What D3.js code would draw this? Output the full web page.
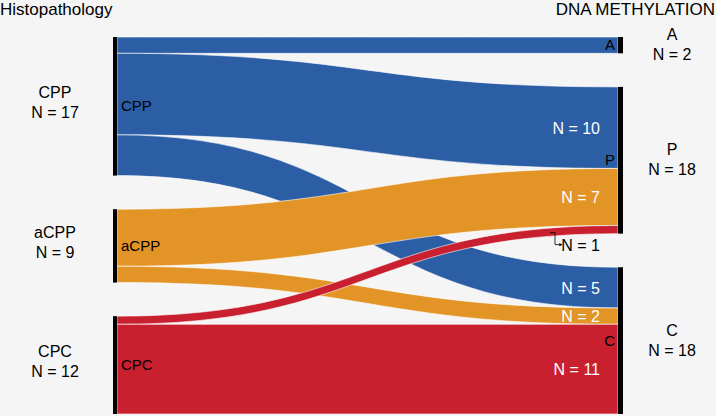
<!DOCTYPE html>
<html>
<head>
<meta charset="utf-8">
<script src="https://cdn.jsdelivr.net/npm/d3@7"></script>
<style>
  body { margin: 0; background: #f5f5f5; }
  svg { display: block; font-family: "Liberation Sans", Arial, Helvetica, sans-serif; }
</style>
</head>
<body>
<svg class="sankey"></svg>
<script>
// Node names per column
const leftNodes = ['CPP', 'aCPP', 'CPC'];
const rightNodes = ['A', 'P', 'C'];

// Flows (histopathology -> methylation class)
const sources = ['CPP', 'CPP', 'CPP', 'aCPP', 'aCPP', 'CPC', 'CPC'];
const targets = ['A', 'P', 'C', 'P', 'C', 'P', 'C'];
const counts = [2, 10, 5, 7, 2, 1, 11];
const flowLabels = ['', 'N = 10', 'N = 5', 'N = 7', 'N = 2', 'N = 1', 'N = 11'];

const width = 716, height = 416;
const yTop = 37, yBottom = 414;
const xLeft = 117, xRight = 618;

const svg = d3.select('svg.sankey')
  .attr('width', width)
  .attr('height', height);

const color = d3.scaleOrdinal()
  .domain(leftNodes)
  .range(['#2c5ea5', '#e39427', '#c9202f']);

const links = sources.map((s, i) => ({ source: s, target: targets[i], value: counts[i], label: flowLabels[i] }));
const total = d3.sum(counts);

// value -> pixel height, leaving room for the gaps between nodes
const gap = 33.6;
const y = d3.scaleLinear()
  .domain([0, total])
  .range([0, (yBottom - yTop) - gap * (leftNodes.length - 1)]);

//Stack nodes in a column
function layoutColumn(names, key) {
  let pos = yTop;
  return names.map(name => {
    const value = d3.sum(links.filter(l => l[key] === name), l => l.value);
    const node = { name: name, value: value, y0: pos, y1: pos + y(value) };
    pos = node.y1 + gap;
    return node;
  });
}
const left = layoutColumn(leftNodes, 'source');
const right = layoutColumn(rightNodes, 'target');

//Link offsets inside nodes
left.forEach(n => {
  let off = n.y0;
  rightNodes.forEach(t => {
    links.filter(l => l.source === n.name && l.target === t).forEach(l => {
      l.sy = off; off += y(l.value);
    });
  });
});
right.forEach(n => {
  let off = n.y0;
  leftNodes.forEach(s => {
    links.filter(l => l.target === n.name && l.source === s).forEach(l => {
      l.ty = off; off += y(l.value);
    });
  });
});

//Ribbon shape
function ribbon(l) {
  const w = y(l.value);
  const xm = (xLeft + xRight) / 2;
  const p = d3.path();
  p.moveTo(xLeft, l.sy);
  p.bezierCurveTo(xm, l.sy, xm, l.ty, xRight, l.ty);
  p.lineTo(xRight, l.ty + w);
  p.bezierCurveTo(xm, l.ty + w, xm, l.sy + w, xLeft, l.sy + w);
  p.closePath();
  return p.toString();
}

svg.append('g')
  .selectAll('path')
  .data(links)
  .join('path')
    .attr('d', ribbon)
    .attr('fill', d => color(d.source))
    .attr('stroke', 'rgba(255,255,255,0.75)')
    .attr('stroke-width', 0.8);

//Node bars
svg.append('g')
  .selectAll('rect')
  .data(left)
  .join('rect')
    .attr('x', xLeft - 4)
    .attr('y', d => d.y0)
    .attr('width', 4)
    .attr('height', d => d.y1 - d.y0)
    .attr('fill', '#000');

svg.append('g')
  .selectAll('rect')
  .data(right)
  .join('rect')
    .attr('x', xRight)
    .attr('y', d => d.y0)
    .attr('width', 5)
    .attr('height', d => d.y1 - d.y0)
    .attr('fill', '#000');

//Column titles
svg.append('text')
  .attr('x', 0).attr('y', 15)
  .attr('font-size', 17)
  .text('Histopathology');

svg.append('text')
  .attr('x', 715).attr('y', 15)
  .attr('font-size', 17)
  .attr('text-anchor', 'end')
  .text('DNA METHYLATION');

//Outer labels (name + count)
function outerLabels(nodes, x, shift) {
  const g = svg.append('g')
    .selectAll('text')
    .data(nodes)
    .join('text')
      .attr('x', x)
      .attr('y', d => (d.y0 + d.y1) / 2 - 5 + shift)
      .attr('font-size', 16)
      .attr('text-anchor', 'middle');
  g.append('tspan').attr('x', x).attr('dy', '-0.25em').text(d => d.name);
  g.append('tspan').attr('x', x).attr('dy', '1.25em').text(d => 'N = ' + d.value);
}
outerLabels(left, 55, 1);
outerLabels(right, 672, 4);

//Inner node labels
svg.append('g')
  .selectAll('text')
  .data(left)
  .join('text')
    .attr('x', xLeft + 4)
    .attr('y', d => (d.y0 + d.y1) / 2 + 5)
    .attr('font-size', 15)
    .text(d => d.name);

svg.append('g')
  .selectAll('text')
  .data(right)
  .join('text')
    .attr('x', xRight - 3)
    .attr('y', d => (d.y0 + d.y1) / 2 + 5)
    .attr('font-size', 15)
    .attr('text-anchor', 'end')
    .text(d => d.name);

//Flow count labels
const labelX = 600;
const labelled = links.filter(l => l.label && l.value > 1);
svg.append('g')
  .selectAll('text')
  .data(labelled)
  .join('text')
    .attr('x', labelX)
    .attr('y', d => d.ty + y(d.value) / 2 + 6)
    .attr('font-size', 16)
    .attr('text-anchor', 'end')
    .attr('fill', '#fff')
    .text(d => d.label);

//Small flow: label below with elbow arrow
svg.append('defs').append('marker')
  .attr('id', 'arrow')
  .attr('viewBox', '0 0 6 6')
  .attr('refX', 5).attr('refY', 3)
  .attr('markerWidth', 4).attr('markerHeight', 4)
  .attr('orient', 'auto')
  .append('path')
    .attr('d', 'M0,0L6,3L0,6Z')
    .attr('fill', '#000');

links.filter(l => l.label && l.value === 1).forEach(l => {
  const ly = l.ty + y(l.value) + 17;
  svg.append('text')
    .attr('x', labelX)
    .attr('y', ly)
    .attr('font-size', 16)
    .attr('text-anchor', 'end')
    .attr('fill', '#000')
    .text(l.label);
  const ay = l.ty + y(l.value);
  svg.append('path')
    .attr('d', `M550,${ay - 1}H555V${ly - 6}H562`)
    .attr('fill', 'none')
    .attr('stroke', '#000')
    .attr('stroke-width', 0.8)
    .attr('marker-end', 'url(#arrow)');
});
</script>
</body>
</html>
